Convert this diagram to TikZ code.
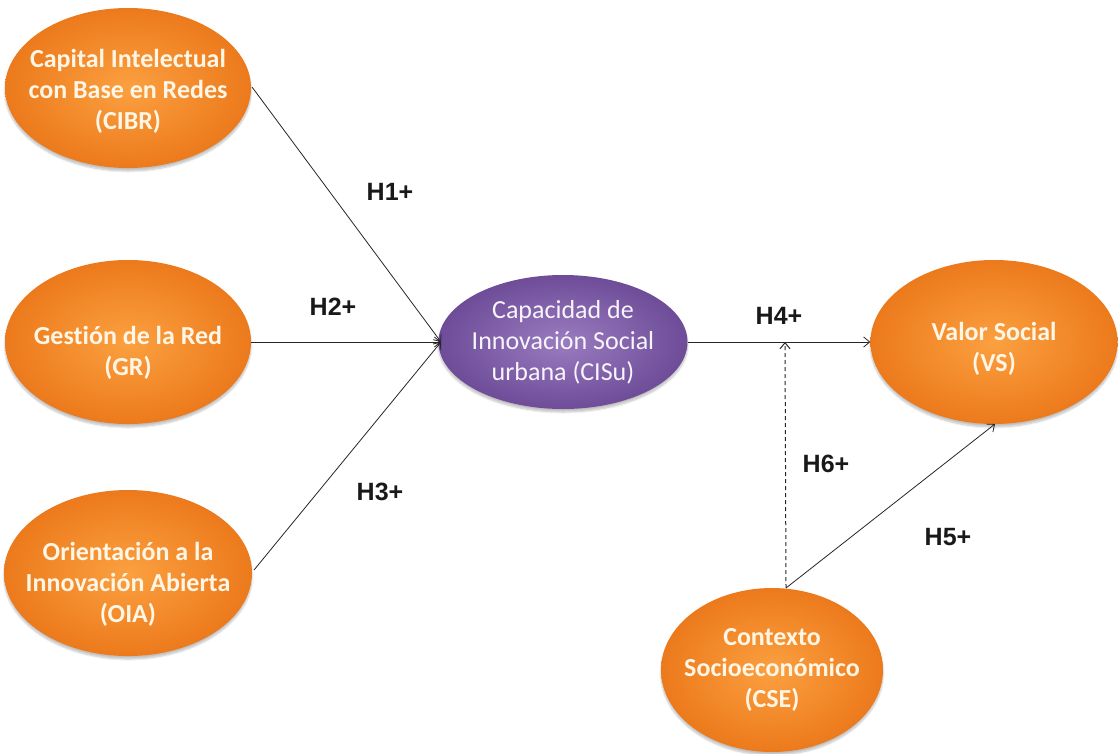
\documentclass[tikz,border=0pt]{standalone}
\usepackage{fontspec}
\setmainfont{Carlito}[Ligatures=NoCommon]
\newfontfamily\labelfont{Liberation Sans}
\usetikzlibrary{shapes.geometric,arrows.meta,shadows.blur}
\definecolor{orIn}{HTML}{FBA040}
\definecolor{orOut}{HTML}{EC7A1C}
\definecolor{puIn}{HTML}{9A7CC0}
\definecolor{puOut}{HTML}{6E4C98}
\definecolor{txtW}{HTML}{FFF6E6}
\tikzset{
  construct/.style={ellipse, inner sep=0pt, shading=radial, inner color=orIn, outer color=orOut,
    blur shadow={shadow xshift=0pt, shadow yshift=-3pt, shadow blur steps=8, shadow opacity=25}},
  central/.style={construct, inner color=puIn, outer color=puOut},
  ctext/.style={text=txtW, font=\fontsize{26}{31}\selectfont\bfseries, align=center, inner sep=0pt},
  cisutext/.style={text=white!92!puIn, font=\fontsize{26}{31}\selectfont, align=center, inner sep=0pt},
  link/.style={draw=black!85, line width=0.8pt, -{Straight Barb[length=6pt,width=10pt]}},
  hyp/.style={font=\labelfont\fontsize{25}{27}\selectfont\bfseries, text=black!90}
}
\begin{document}
\begin{tikzpicture}[x=1pt,y=-1pt]
\useasboundingbox (0,0) rectangle (1118,753);
% latent constructs (fixed-size ellipses, text set as a centred label)
\node[construct, minimum width=246pt, minimum height=160pt,
  label={[ctext, yshift=-3pt]center:Capital Intelectual\\con Base en Redes\\(CIBR)}] (cibr) at (128,88) {};
\node[construct, minimum width=246pt, minimum height=164pt,
  label={[ctext, yshift=-11pt]center:Gesti\'on de la Red\\(GR)}] (gr) at (128,342) {};
\node[construct, minimum width=248pt, minimum height=166pt,
  label={[ctext, yshift=-11pt]center:Orientaci\'on a la\\Innovaci\'on Abierta\\(OIA)}] (oia) at (128,573) {};
\node[central, minimum width=249pt, minimum height=134pt,
  label={[cisutext]center:Capacidad de\\Innovaci\'on Social\\urbana (CISu)}] (cisu) at (563,342) {};
\node[construct, minimum width=247pt, minimum height=164pt,
  label={[ctext, yshift=-7pt]center:Valor Social\\(VS)}] (vs) at (994,342) {};
\node[construct, minimum width=222pt, minimum height=164pt,
  label={[ctext]center:Contexto\\Socioecon\'omico\\(CSE)}] (cse) at (772,670) {};
% anchor points on the paths
\coordinate (cibrE) at (252,87);
\coordinate (oiaE) at (254,570);
\coordinate (cisuW) at (441,342);
\coordinate (mod) at (785,342);
\coordinate (cseN) at (786,588);
\coordinate (vsS) at (995,424);
% structural paths
\draw[link] (cibrE) -- (cisuW);
\draw[link] (gr.east) -- (cisuW);
\draw[link] (oiaE) -- (cisuW);
\draw[link] (cisu.east) -- (vs.west);
\draw[link] (cseN) -- (vsS);
\draw[link, line width=1pt, dash pattern=on 4pt off 3pt] (cseN) -- (mod);
% hypothesis labels
\node[hyp] (h1) at (390,192) {H1+};
\node[hyp] (h2) at (333,307) {H2+};
\node[hyp] (h3) at (380,492) {H3+};
\node[hyp] (h4) at (779,316) {H4+};
\node[hyp] (h6) at (826,464) {H6+};
\node[hyp] (h5) at (948,537) {H5+};
\end{tikzpicture}
\end{document}
